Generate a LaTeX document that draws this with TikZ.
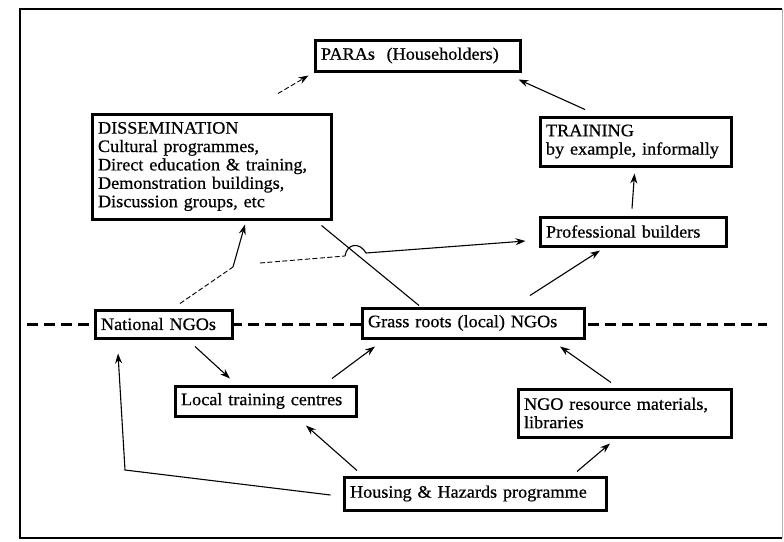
\documentclass[tikz,border=0pt]{standalone}
\usepackage{fontspec}
\setmainfont[FakeStretch=1.04,FakeBold=0.6]{Liberation Serif}
\usetikzlibrary{arrows.meta}
\newcommand{\tl}[1]{\mbox{#1}}
\begin{document}
\begin{tikzpicture}[x=1pt,y=-1pt,
  box/.style n args={3}{draw, line width=3pt, fill=white, minimum width=#1, text width=#2, minimum height=#3, align=left, inner xsep=6pt, inner ysep=0pt, font=\fontsize{17.5}{18.4}\selectfont},
  arr/.style={-{Stealth[length=10pt,width=7pt]}, line width=1.1pt},
  faint/.style={line width=0.9pt, dash pattern=on 5pt off 2.5pt},
  plain/.style={line width=1.1pt}]
\useasboundingbox (0,0) rectangle (784,541);
% frame
\draw[line width=2.2pt] (782,9) -- (20,9) -- (20,538) -- (782,538);
\draw[line width=0.4pt, gray!60] (782,9) -- (782,538);
% dashed divider
\coordinate (dl) at (27,324);
\coordinate (dr) at (767,324);
\draw[line width=3pt, dash pattern=on 11pt off 6pt] (dl) -- (dr);
% nodes
\node[box={205pt}{193pt}{31pt}] (paras) at (417.5,55.5) {\tl{PARAs~ (Householders)}};
\node[box={239pt}{227pt}{105pt}] (dis) at (211.5,166.5) {\tl{DISSEMINATION}\\\tl{Cultural programmes,}\\\tl{Direct education \& training,}\\\tl{Demonstration buildings,}\\\tl{Discussion groups, etc}};
\node[box={191pt}{179pt}{49pt}] (train) at (635.5,141.5) {\tl{TRAINING}\\\tl{by example, informally}};
\node[box={186pt}{174pt}{29pt}] (prof) at (633,231.5) {\tl{Professional builders}};
\node[box={137pt}{125pt}{28pt}] (nat) at (163.5,324) {\tl{National NGOs}};
\node[box={222pt}{210pt}{30pt}] (grass) at (473,323) {\tl{Grass roots (local) NGOs}};
\node[box={181pt}{169pt}{30pt}] (local) at (265.5,401) {\tl{Local training centres}};
\node[box={213pt}{201pt}{48pt}] (res) at (624.5,413) {\tl{NGO resource materials,}\\\tl{libraries}};
\node[box={262pt}{250pt}{33pt}] (hh) at (475,493.5) {\tl{Housing \& Hazards programme}};
% connectors
\draw[arr, faint] ([shift={(66.5,-19)}]dis.north) -- ([shift={(-5,3)}]paras.south west);
\draw[arr] ([shift={(-50.5,-6)}]train.north) -- ([shift={(-3,7)}]paras.south east);
\draw[arr] ([shift={(-1,-7)}]prof.north) -- ([shift={(-1,6)}]train.south);
\draw[arr] ([shift={(57,-11)}]grass.north) -- ([shift={(-33,3)}]prof.south);
\coordinate (j) at (233,267);
\draw[faint] ([shift={(16.5,-5)}]nat.north) -- (j);
\draw[arr] (j) -- ([shift={(33.5,4)}]dis.south);
\coordinate (h1) at (345,256);
\coordinate (h2) at (366,253);
\draw[faint] ([shift={(27,-4)}]j) -- (h1);
\draw[arr] (h1) .. controls (347,243) and (360,242) .. (h2) -- ([shift={(-13,9.5)}]prof.west);
\draw[plain] ([shift={(-54,-1)}]grass.north) -- ([shift={(-11,5)}]dis.south east);
\draw[arr] ([shift={(31.5,7)}]nat.south) -- ([shift={(-35.5,-6)}]local.north);
\draw[arr] ([shift={(66.5,-6)}]local.north) -- ([shift={(-98,7)}]grass.south);
\draw[arr] ([shift={(-13.5,-5)}]res.north) -- ([shift={(87,7)}]grass.south);
\draw[arr] ([shift={(-118,-5)}]hh.north) -- ([shift={(40.5,8)}]local.south);
\draw[arr] ([shift={(102,-4)}]hh.north) -- ([shift={(-14.5,5)}]res.south);
\coordinate (c1) at (125,470);
\draw[arr] ([shift={(-12,1.5)}]hh.west) -- (c1) -- ([shift={(-45.5,14)}]nat.south);
\end{tikzpicture}
\end{document}
